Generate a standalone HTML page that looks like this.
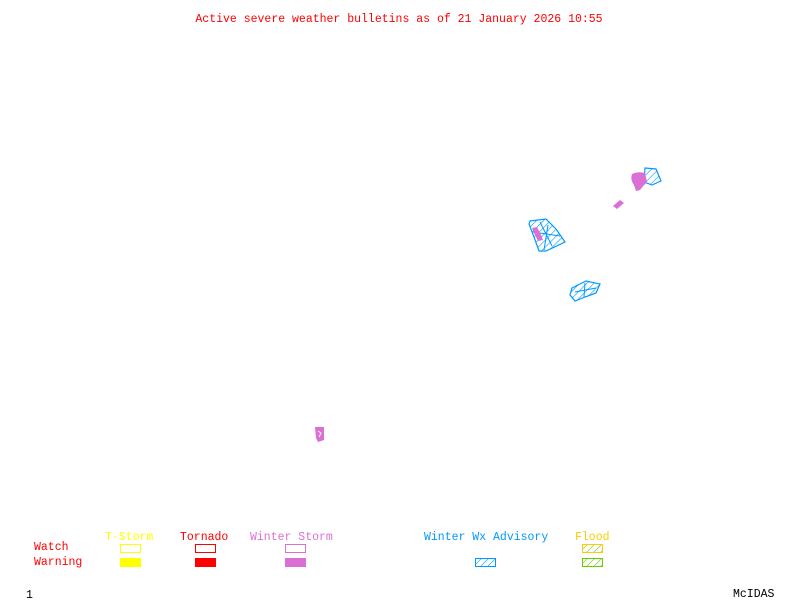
<!DOCTYPE html>
<html><head><style>
body{margin:0;background:#fff;width:800px;height:600px;overflow:hidden}
svg{display:block}
text{font-family:"Liberation Mono",monospace;font-size:11.5px}
</style></head><body>
<svg width="800" height="600" xmlns="http://www.w3.org/2000/svg">
<defs>
<pattern id="hb" width="5" height="5" patternUnits="userSpaceOnUse" patternTransform="rotate(45)">
<line x1="0" y1="0" x2="0" y2="5" stroke="#0099ff" stroke-width="1.2"/></pattern>
<pattern id="hg" width="5" height="5" patternUnits="userSpaceOnUse" patternTransform="rotate(45)">
<line x1="0" y1="0" x2="0" y2="5" stroke="#66cc00" stroke-width="1.2"/></pattern>
</defs>
<text x="399" y="22" fill="#ff0000" text-anchor="middle">Active severe weather bulletins as of 21 January 2026 10:55</text>

<polygon points="645,168 656,169 661,181 652,185 644,182" fill="url(#hb)" stroke="#0099ff" stroke-width="1.2"/>
<path d="M632,174 Q638,171 645,173 L647,182 Q643,186 640,190 L636,191 L634,185 Q630,180 632,174Z" fill="#da70d6"/>
<path d="M613,206 L620,200 L624,203 L617,209Z" fill="#da70d6"/>
<polygon points="530,221 546,219 556,229 565,242 546,251 539,251 534,237 529,224" fill="url(#hb)" stroke="#0099ff" stroke-width="1.2"/>
<path d="M540,222 L552,246 M548,225 L544,250 M533,232 L560,236" stroke="#0099ff" fill="none"/>
<path d="M532,228 L537,227 L541,235 L543,240 L538,241 L535,235Z" fill="#da70d6"/>
<polygon points="572,288 586,281 600,284 596,293 585,297 575,301 570,295" fill="url(#hb)" stroke="#0099ff" stroke-width="1.2"/>
<path d="M575,292 L596,288 M585,283 L584,297" stroke="#0099ff" fill="none"/>
<path d="M315,427 L324,427 L324,440 L318,442 L316,438Z" fill="#da70d6"/>
<path d="M318,431 L321,433 L319,437" stroke="#fff" fill="none"/>

<text x="34" y="550" fill="#ff0000">Watch</text>
<text x="34" y="565" fill="#ff0000">Warning</text>
<text x="105" y="540" fill="#ffff00">T-Storm</text>
<text x="180" y="540" fill="#ff0000">Tornado</text>
<text x="250" y="540" fill="#da70d6">Winter Storm</text>
<text x="424" y="540" fill="#0099ff">Winter Wx Advisory</text>
<text x="575" y="540" fill="#ffcc00">Flood</text>
<rect x="120.5" y="544.5" width="20" height="8" fill="none" stroke="#ffff00"/>
<rect x="120" y="558" width="21" height="9" fill="#ffff00"/>
<rect x="195.5" y="544.5" width="20" height="8" fill="none" stroke="#ff0000"/>
<rect x="195" y="558" width="21" height="9" fill="#ff0000"/>
<rect x="285.5" y="544.5" width="20" height="8" fill="none" stroke="#da70d6"/>
<rect x="285" y="558" width="21" height="9" fill="#da70d6"/>
<rect x="475.5" y="558.5" width="20" height="8" fill="url(#hb)" stroke="#0099ff"/>
<rect x="582.5" y="544.5" width="20" height="8" fill="url(#hg)" stroke="#ffcc00"/>
<rect x="582.5" y="558.5" width="20" height="8" fill="url(#hg)" stroke="#66cc00"/>
<text x="26" y="598" fill="#000">1</text>
<text x="733" y="597" fill="#000">McIDAS</text>
</svg>
</body></html>
